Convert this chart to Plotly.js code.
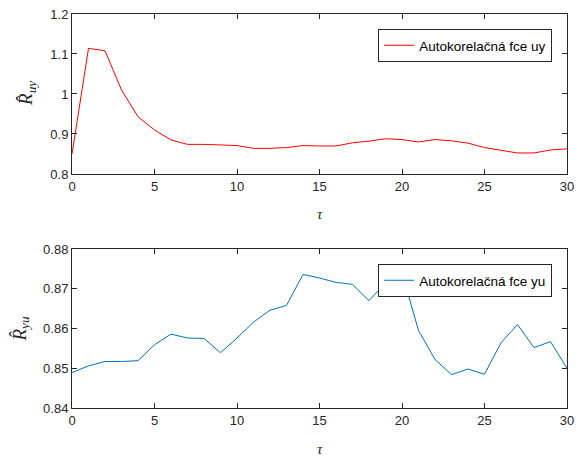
<!DOCTYPE html>
<html>
<head>
<meta charset="utf-8">
<script src="https://cdn.plot.ly/plotly-3.0.1.min.js"></script>
<style>html,body{margin:0;padding:0;background:#fff;}#chart{width:576px;height:457px;}</style>
</head>
<body>
<div id="chart"></div>
<script>
const tau = [0,1,2,3,4,5,6,7,8,9,10,11,12,13,14,15,16,17,18,19,20,21,22,23,24,25,26,27,28,29,30];
const Ruy = [0.850,1.114,1.108,1.010,0.943,0.910,0.885,0.874,0.874,0.873,0.871,0.864,0.864,0.866,0.871,0.870,0.870,0.878,0.882,0.888,0.886,0.880,0.886,0.883,0.877,0.866,0.860,0.8525,0.8525,0.860,0.863];
const Ryu = [0.8489,0.8506,0.8517,0.8517,0.8519,0.8559,0.8586,0.8576,0.8575,0.8539,0.8576,0.8616,0.8646,0.8658,0.8736,0.8727,0.8716,0.8711,0.8670,0.8715,0.8740,0.8595,0.8522,0.8484,0.8498,0.8485,0.8564,0.8610,0.8552,0.8567,0.8500];
const nameUy = 'Autokorelačná fce uy';
const nameYu = 'Autokorelačná fce yu';
const ticksTop = [0.8,0.9,1,1.1,1.2];
const ticksBot = [0.84,0.85,0.86,0.87,0.88];
const ticksX = [0,5,10,15,20,25,30];

const axCol = '#262626';
const baseAx = {
  showline: true, linecolor: axCol, linewidth: 1, mirror: 'ticks',
  ticks: 'inside', ticklen: 5, tickcolor: axCol, tickwidth: 1,
  showgrid: false, zeroline: false,
  tickfont: {family: 'Liberation Sans, Arial, sans-serif', size: 13, color: axCol}
};

const traces = [
  {x: tau, y: Ruy, type: 'scatter', mode: 'lines', name: nameUy,
   line: {color: '#ff0000', width: 1}, xaxis: 'x', yaxis: 'y', legend: 'legend'},
  {x: tau, y: Ryu, type: 'scatter', mode: 'lines', name: nameYu,
   line: {color: '#0072bd', width: 1}, xaxis: 'x2', yaxis: 'y2', legend: 'legend2'}
];

const legBase = {
  bgcolor: '#ffffff', bordercolor: axCol, borderwidth: 1,
  font: {family: 'Liberation Sans, Arial, sans-serif', size: 13.5, color: '#000'},
  xanchor: 'right', yanchor: 'top', x: 0.970, tracegroupgap: 0,
  itemwidth: 30
};

const serif = {family: 'Liberation Serif, Times New Roman, serif', size: 15, color: axCol};
const serifBig = {family: 'Liberation Serif, Times New Roman, serif', size: 19, color: axCol};

const layout = {
  width: 576, height: 457,
  margin: {l: 72, r: 9, t: 14, b: 49},
  paper_bgcolor: '#ffffff', plot_bgcolor: '#ffffff',
  showlegend: true,
  xaxis: Object.assign({}, baseAx, {domain: [0,1], range: [0,30], tickvals: ticksX, anchor: 'y'}),
  yaxis: Object.assign({}, baseAx, {domain: [0.594,1], range: [0.8,1.2], tickvals: ticksTop, ticktext: ['0.8','0.9','1','1.1','1.2'], anchor: 'x'}),
  xaxis2: Object.assign({}, baseAx, {domain: [0,1], range: [0,30], tickvals: ticksX, anchor: 'y2'}),
  yaxis2: Object.assign({}, baseAx, {domain: [0,0.4036], range: [0.84,0.88], tickvals: ticksBot, ticktext: ['0.84','0.85','0.86','0.87','0.88'], anchor: 'x2'}),
  legend: Object.assign({}, legBase, {y: 0.962}),
  legend2: Object.assign({}, legBase, {y: 0.3655}),
  annotations: [
    {text: '<i>τ</i>', xref: 'paper', yref: 'paper', x: 0.5, y: 0.594, yshift: -40, xanchor: 'center', yanchor: 'middle', showarrow: false, font: serif},
    {text: '<i>τ</i>', xref: 'paper', yref: 'paper', x: 0.5, y: 0, yshift: -41, xanchor: 'center', yanchor: 'middle', showarrow: false, font: serif},
    {text: '<i>R̂</i><sub><i>uy</i></sub>', xref: 'paper', yref: 'paper', x: 0, xshift: -45, y: 0.797, xanchor: 'center', yanchor: 'middle', textangle: -90, showarrow: false, font: serifBig},
    {text: '<i>R̂</i><sub><i>yu</i></sub>', xref: 'paper', yref: 'paper', x: 0, xshift: -51, y: 0.2018, xanchor: 'center', yanchor: 'middle', textangle: -90, showarrow: false, font: serifBig}
  ]
};

Plotly.newPlot('chart', traces, layout, {staticPlot: true, displayModeBar: false});
</script>
</body>
</html>
